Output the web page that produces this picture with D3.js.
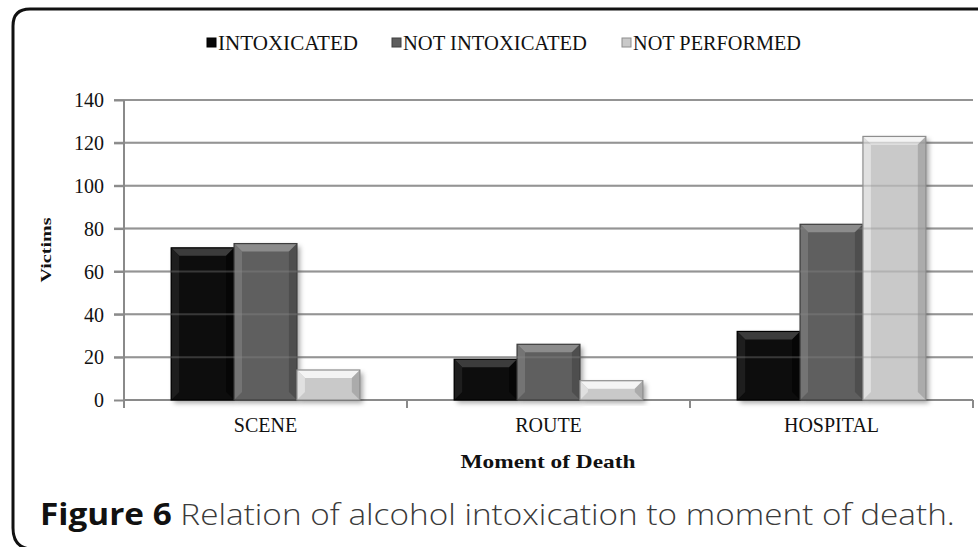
<!DOCTYPE html>
<html><head><meta charset="utf-8">
<script src="https://cdn.jsdelivr.net/npm/d3@7"></script>
<style>html,body{margin:0;padding:0;background:#fff;}svg{display:block;}</style>
</head><body>
<svg id="chart" width="978" height="547"></svg>
<script>
const categories = ["SCENE", "ROUTE", "HOSPITAL"];
const seriesNames = ["INTOXICATED", "NOT INTOXICATED", "NOT PERFORMED"];
const intoxicated = [71, 19, 32];
const notIntoxicated = [73, 26, 82];
const notPerformed = [14, 9, 123];
const yTicks = [0, 20, 40, 60, 80, 100, 120, 140];
const xTitle = "Moment of Death";
const yTitle = "Victims";
const captionBold = "Figure 6";
const captionText = " Relation of alcohol intoxication to moment of death.";

const seriesValues = [intoxicated, notIntoxicated, notPerformed];
const fills = ["#070707", "#5e5e5e", "#c9c9c9"];
const bevelTop = ["#3c3c3c", "#8c8c8c", "#f4f4f4"];
const bevelSide = ["#1e1e1e", "#747474", "#e0e0e0"];
const edge = ["#000", "#3e3e3e", "#8e8e8e"];

const svg = d3.select("#chart");
const serif = "'Liberation Serif','Times New Roman',serif";

// frame
svg.append("path")
  .attr("d", "M 30 549 Q 13 547 13 528 L 13 26 Q 13 9 30 9 L 980 9")
  .attr("fill", "none").attr("stroke", "#111").attr("stroke-width", 3);

const defs = svg.append("defs");
const f = defs.append("filter").attr("id", "sh").attr("x", "-20%").attr("y", "-20%").attr("width", "150%").attr("height", "150%");
f.append("feDropShadow").attr("dx", 3).attr("dy", 3).attr("stdDeviation", 2.5).attr("flood-color", "#000").attr("flood-opacity", 0.35);

const x0 = d3.scaleBand().domain(categories).range([124, 973]).paddingInner(0).paddingOuter(0);
const bw = x0.bandwidth() / 4.5;
const y = d3.scaleLinear().domain([0, 140]).range([400, 100]);

// gridlines
svg.append("g").selectAll("line").data(yTicks.slice(1)).join("line")
  .attr("x1", 114).attr("x2", 973)
  .attr("y1", d => y(d)).attr("y2", d => y(d))
  .attr("stroke", "#9a9a9a").attr("stroke-width", 2);

// y axis
const yAxis = d3.axisLeft(y).tickValues(yTicks).tickSize(10).tickPadding(10);
const gy = svg.append("g").attr("transform", "translate(124,0)").call(yAxis);
gy.select(".domain").attr("stroke", "#8a8a8a").attr("stroke-width", 2).attr("d", "M0,100V406");
gy.selectAll(".tick line").attr("stroke", "#8a8a8a").attr("stroke-width", 2);
gy.selectAll(".tick text").attr("font-family", serif).attr("font-size", 20).attr("fill", "#111").attr("dy", "0.34em");

// x axis
const xAxis = d3.axisBottom(x0).tickSize(0).tickPadding(0);
const gx = svg.append("g").attr("transform", "translate(0,400)").call(xAxis);
gx.select(".domain").attr("stroke", "#8a8a8a").attr("stroke-width", 2).attr("d", "M124,0H973");
gx.selectAll(".tick text").attr("font-family", serif).attr("font-size", 20).attr("fill", "#111").attr("y", 32).attr("dy", 0);
const bounds = [0, 1, 2, 3].map(i => 124 + i * x0.bandwidth());
svg.append("g").selectAll("line").data(bounds).join("line")
  .attr("x1", d => d).attr("x2", d => d).attr("y1", 400).attr("y2", 408)
  .attr("stroke", "#8a8a8a").attr("stroke-width", 2);

// bars
const bars = [];
categories.forEach((c, ci) => {
  seriesValues.forEach((vals, si) => bars.push({c, si, v: vals[ci]}));
});
const gb = svg.append("g");
bars.forEach(b => {
  const bx = x0(b.c) + bw * 0.75 + b.si * bw;
  const by = y(b.v), bh = y(0) - y(b.v);
  const g = gb.append("g");
  g.append("rect").attr("x", bx).attr("y", by).attr("width", bw).attr("height", bh)
    .attr("fill", fills[b.si]).attr("filter", "url(#sh)");
  const bv = Math.min(8, bh / 2);
  g.append("path").attr("d", `M${bx},${by}L${bx + bw},${by}L${bx + bw - bv},${by + bv}L${bx + bv},${by + bv}Z`)
    .attr("fill", bevelTop[b.si]);
  g.append("path").attr("d", `M${bx},${by}L${bx + bv},${by + bv}L${bx + bv},${by + bh - bv}L${bx},${by + bh}Z`)
    .attr("fill", bevelSide[b.si]);
  g.append("path").attr("d", `M${bx + bw},${by}L${bx + bw - bv},${by + bv}L${bx + bw - bv},${by + bh - bv}L${bx + bw},${by + bh}Z`)
    .attr("fill", edge[b.si]).attr("opacity", 0.5);
  g.append("rect").attr("x", bx).attr("y", by).attr("width", bw).attr("height", bh)
    .attr("fill", "none").attr("stroke", edge[b.si]).attr("stroke-width", 1.2);
});

// faint gridlines showing through bars
svg.append("g").selectAll("line").data(yTicks.slice(1)).join("line")
  .attr("x1", 124).attr("x2", 973)
  .attr("y1", d => y(d)).attr("y2", d => y(d))
  .attr("stroke", "#8a8a8a").attr("stroke-width", 2).attr("opacity", 0.35);

// legend
const legX = [207, 392, 622];
const legLen = [140, 184, 168];
const gl = svg.append("g");
seriesNames.forEach((n, i) => {
  gl.append("rect").attr("x", legX[i]).attr("y", 38).attr("width", 9).attr("height", 9)
    .attr("fill", fills[i]).attr("stroke", edge[i]).attr("stroke-width", 1);
  gl.append("text").attr("x", legX[i] + 11).attr("y", 50).text(n)
    .attr("font-family", serif).attr("font-size", 20).attr("fill", "#111")
    .attr("textLength", legLen[i]).attr("lengthAdjust", "spacingAndGlyphs");
});

// axis titles
svg.append("text").attr("x", 548).attr("y", 468).attr("text-anchor", "middle").text(xTitle)
  .attr("font-family", serif).attr("font-size", 19).attr("font-weight", "bold").attr("fill", "#111")
  .attr("textLength", 175).attr("lengthAdjust", "spacingAndGlyphs");
svg.append("text").attr("transform", "translate(51,250) rotate(-90)").attr("text-anchor", "middle").text(yTitle)
  .attr("font-family", serif).attr("font-size", 15).attr("font-weight", "bold").attr("fill", "#111")
  .attr("textLength", 65).attr("lengthAdjust", "spacingAndGlyphs");

// caption
const cap = svg.append("text").attr("x", 40).attr("y", 525)
  .attr("font-family", "'Open Sans','Noto Sans',sans-serif").attr("font-size", 30).attr("fill", "#3a3a3a");
cap.append("tspan").attr("font-weight", "bold").attr("fill", "#111").text(captionBold);
cap.append("tspan").attr("font-weight", 300).text(captionText);
const w = cap.node().getComputedTextLength();
cap.attr("transform", `translate(40,0) scale(${915 / w},1) translate(-40,0)`);
</script>
</body></html>
